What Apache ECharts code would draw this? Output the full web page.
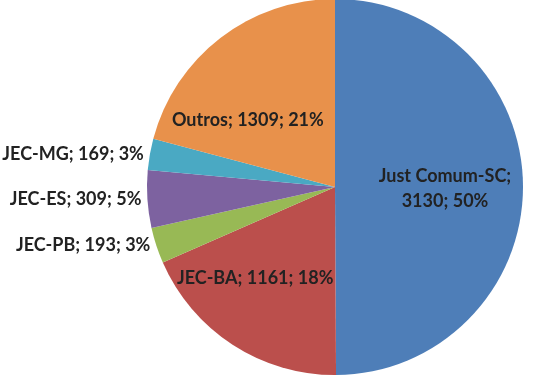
<!DOCTYPE html>
<html>
<head>
<meta charset="utf-8">
<script src="https://cdn.jsdelivr.net/npm/echarts@6/dist/echarts.min.js"></script>
<style>
  html, body { margin: 0; padding: 0; background: #fff; }
  #main { width: 537px; height: 376px; }
</style>
</head>
<body>
<div id="main"></div>
<script>
// dados do grafico
var categories = ['Just Comum-SC', 'JEC-BA', 'JEC-PB', 'JEC-ES', 'JEC-MG', 'Outros'];
var values = [3130, 1161, 193, 309, 169, 1309];
var percents = ['50%', '18%', '3%', '5%', '3%', '21%'];
var colors = ['#4E7EB8', '#BB4F4C', '#98B955', '#7D62A0', '#4AA9C3', '#E8914B'];

// rotulos dentro da fatia
var insideLabels = ['Just Comum-SC', 'JEC-BA', 'Outros'];
// ajuste fino dos rotulos internos
var labelShift = {
  'Just Comum-SC': [13, 2],
  'JEC-BA': [-27, 10],
  'Outros': [-28, 10]
};

var myChart = echarts.init(document.getElementById('main'));

var seriesData = categories.map(function(name, i) {
  var item = {
    name: name,
    value: values[i],
    itemStyle: { color: colors[i] }
  };
  if (insideLabels.indexOf(name) >= 0) {
    item.label = { position: 'inside' };
  }
  return item;
});

var option = {
  animation: false,
  series: [{
    type: 'pie',
    center: [335, 187],
    radius: 188,
    startAngle: 90,
    clockwise: true,
    avoidLabelOverlap: false,
    data: seriesData,
    itemStyle: { borderWidth: 0 },
    label: {
      show: true,
      position: 'outside',
      fontFamily: 'Lato',
      fontWeight: 'bold',
      fontSize: 18,
      color: '#222',
      lineHeight: 25,
      distanceToLabelLine: 6,
      formatter: function(p) {
        var txt = p.name + '; ' + p.value + '; ' + percents[p.dataIndex];
        if (p.name === 'Just Comum-SC') {
          txt = p.name + ';\n' + p.value + '; ' + percents[p.dataIndex];
        }
        return txt;
      }
    },
    labelLine: { show: false, length: 0, length2: 0 },
    labelLayout: function(params) {
      var s = labelShift[categories[params.dataIndex]];
      if (s) {
        return { dx: s[0], dy: s[1] };
      }
      return {};
    }
  }]
};

myChart.setOption(option);
</script>
</body>
</html>
